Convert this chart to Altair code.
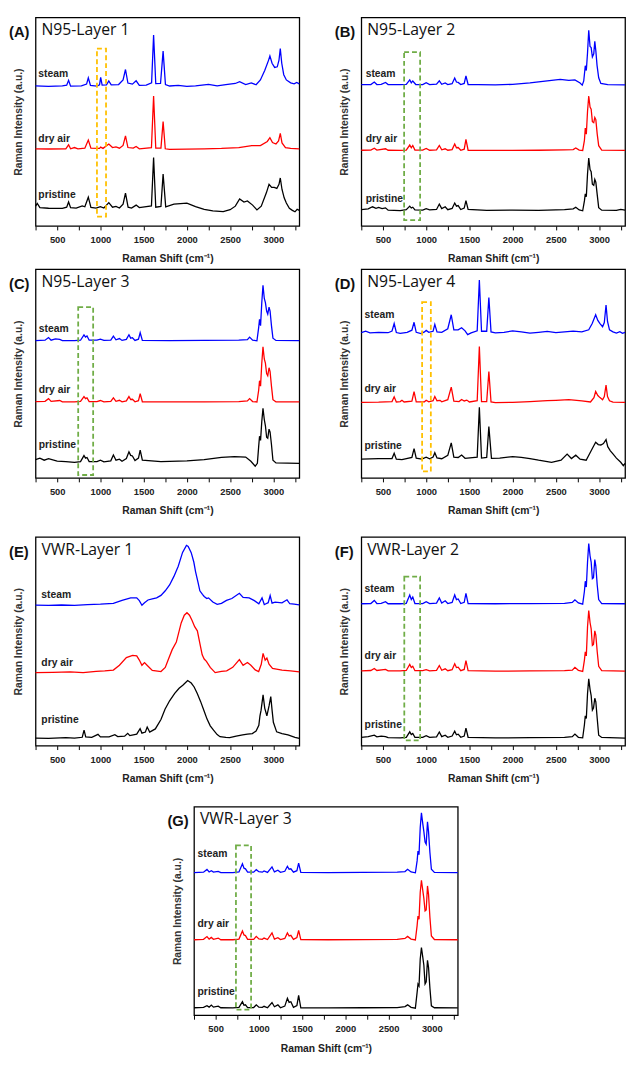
import altair as alt
import pandas as pd

# ---------------- data ----------------
SERIES = ["steam", "dry air", "pristine"]
COLORS = ["#0000ff", "#ff0000", "#000000"]

PANEL_KEYS = ["A", "B", "C", "D", "E", "F", "G"]
PANEL_TITLES = ["N95-Layer 1", "N95-Layer 2", "N95-Layer 3", "N95-Layer 4",
                "VWR-Layer 1", "VWR-Layer 2", "VWR-Layer 3"]

TICK_VALUES = [250, 500, 750, 1000, 1250, 1500, 1750, 2000, 2250, 2500, 2750, 3000, 3250]

A_STEAM = [(250,67.2),(400,66.9),(560,67.2),(610,67.5),(632,69.8),(655,67),(780,67.2),(840,68),(860,71),(885,67.4),(960,67),(990,67.6),(1003,71.2),(1020,67.5),(1070,67.6),(1097,69.5),(1125,67.6),(1210,67.8),(1262,70),(1290,75),(1318,68.5),(1370,68),(1413,69.6),(1450,67.4),(1530,67.5),(1592,68.6),(1615,91.5),(1640,68.2),(1695,68.3),(1725,83.8),(1752,67.8),(1800,67.1),(1900,67.4),(2000,66.9),(2100,67.1),(2250,67.9),(2350,67.2),(2450,67.7),(2560,68.3),(2610,69.2),(2680,67.8),(2745,68.6),(2800,67.7),(2850,70),(2900,74.5),(2945,79.5),(2960,81.5),(2985,78),(3015,76),(3045,76.3),(3065,79.5),(3080,85),(3097,78),(3120,72.5),(3150,70),(3200,68.6),(3240,68.1),(3270,68.8),(3300,68.1)]
A_DRY = [(250,37),(400,36.9),(600,37),(632,38.9),(655,37),(700,37.6),(740,37),(820,37.3),(860,41.2),(890,37.3),(990,37.2),(1003,37.8),(1030,37.2),(1097,39.3),(1140,37.6),(1180,37.9),(1220,37.3),(1262,38.6),(1290,43.2),(1318,37.6),(1380,37.3),(1413,38.1),(1450,37),(1590,37.5),(1615,62.3),(1640,37.3),(1700,37.3),(1725,50),(1750,37),(1800,36.7),(2000,36.8),(2200,37),(2400,37.2),(2600,37.6),(2750,38.5),(2850,38.5),(2930,40.5),(2960,42.3),(2990,40),(3030,39.3),(3060,40.8),(3080,44.4),(3100,39.8),(3140,37.6),(3200,37.2),(3300,37)]
A_PRIS = [(250,9.5),(270,10.8),(300,8.8),(400,8.5),(560,8.4),(610,9),(632,11.5),(655,8.8),(720,8.6),(790,9.6),(820,9.2),(860,13.8),(890,8.9),(950,8.6),(1000,9.3),(1040,8.6),(1097,11.2),(1140,9),(1180,9.4),(1220,8.6),(1262,10.5),(1290,15.8),(1320,9),(1360,8.6),(1413,10),(1450,8.8),(1590,9.6),(1615,32.8),(1640,9),(1700,9.4),(1725,24.9),(1755,9.2),(1850,10.5),(2000,11),(2100,9.3),(2200,8),(2300,7.2),(2420,6.9),(2500,7.8),(2560,9.5),(2610,13),(2660,11.5),(2700,12),(2760,10),(2810,7.7),(2860,9.5),(2920,16),(2950,20),(2980,18.5),(3010,18.5),(3040,18),(3065,20),(3080,23),(3100,17.5),(3125,13.5),(3150,11),(3185,8.5),(3220,7.5),(3250,6.8),(3275,8),(3300,7.5)]

B_STEAM = [(250,67.7),(360,67.8),(400,69),(430,67.8),(480,67.9),(530,68.8),(560,67.8),(700,67.7),(770,67.9),(810,70),(828,68.6),(845,69.5),(880,67.8),(960,67.8),(1000,68.7),(1040,67.8),(1120,68),(1152,69.6),(1180,67.9),(1220,68.6),(1250,67.8),(1300,68.2),(1330,70.9),(1350,69),(1370,68.8),(1400,67.8),(1440,68.3),(1460,71.9),(1485,67.8),(1600,67.7),(1800,67.6),(2000,67.9),(2200,68.6),(2400,69.6),(2550,70.3),(2650,69.8),(2720,70),(2780,68.5),(2805,67.5),(2822,69.5),(2840,76.8),(2852,74.5),(2866,83),(2880,93.8),(2895,86),(2908,85.5),(2922,81),(2938,82.5),(2950,88.5),(2962,84),(2976,77),(2995,71),(3020,68.3),(3100,67.8),(3300,67.6)]
B_DRY = [(250,36.3),(360,36.4),(400,37.3),(430,36.4),(530,37),(560,36.3),(700,36.2),(770,36.4),(810,38.8),(828,37.5),(845,38.6),(870,36.4),(960,36.4),(1000,37.2),(1040,36.3),(1120,36.5),(1152,38.6),(1180,36.5),(1220,37),(1250,36.3),(1300,36.6),(1330,39.3),(1350,37.5),(1370,37.6),(1400,36.3),(1440,36.8),(1460,41.5),(1485,36.3),(1700,36.2),(2000,36.2),(2300,36.3),(2600,36.5),(2700,36.6),(2730,37.4),(2770,36.4),(2810,36.2),(2830,41),(2840,46.9),(2852,44),(2866,55),(2880,62.3),(2895,57),(2908,56),(2922,50),(2938,49.5),(2950,52),(2962,51),(2978,44),(2995,38.5),(3030,36.4),(3300,36.2)]
B_PRIS = [(250,7.8),(330,8.2),(380,9.2),(420,8.5),(450,8.9),(490,8.3),(530,8.7),(560,7.6),(700,7.4),(770,7.8),(810,9.5),(828,8.6),(845,9),(870,7.7),(960,7.6),(1000,8.3),(1040,7.7),(1120,7.9),(1152,10.5),(1180,8.3),(1220,9.2),(1250,7.8),(1300,8.4),(1330,11),(1350,9.5),(1370,9.8),(1400,7.9),(1440,8.6),(1460,12.2),(1485,7.9),(1700,7.5),(2000,7.6),(2300,7.5),(2600,7.8),(2700,8.2),(2730,9),(2770,7.7),(2810,7.3),(2830,12),(2840,15.4),(2852,14),(2866,25),(2880,32.6),(2895,27),(2908,26),(2922,20),(2938,19.5),(2950,22.3),(2962,21),(2978,15),(2995,8.8),(3030,7.6),(3200,7.5),(3250,8),(3300,7.6)]

C_STEAM = [(250,65.8),(360,66),(400,67.3),(430,66),(480,66.6),(530,66.4),(560,65.8),(700,65.8),(770,66),(810,68.6),(828,67.5),(845,68),(870,66),(960,66),(1000,66.5),(1040,65.9),(1120,66.1),(1150,68),(1180,66.2),(1220,66.8),(1250,65.9),(1300,66.4),(1330,68.6),(1350,67),(1370,67.2),(1400,65.9),(1440,66.5),(1460,69.6),(1485,65.9),(1800,65.8),(2200,65.9),(2600,66),(2700,66.3),(2725,67.5),(2760,66),(2810,65.7),(2830,72),(2840,76),(2852,73),(2866,84),(2880,92.3),(2895,86),(2908,84),(2922,80),(2935,78.5),(2950,81.9),(2962,80),(2978,73),(2995,67),(3030,65.9),(3300,65.8)]
C_DRY = [(250,36.6),(360,36.7),(400,38),(430,36.7),(530,37.1),(560,36.5),(700,36.5),(770,36.7),(810,39),(828,38),(845,38.4),(870,36.6),(960,36.6),(1000,37.1),(1040,36.5),(1120,36.7),(1150,38.4),(1180,36.7),(1220,37.2),(1250,36.5),(1300,36.9),(1330,39),(1350,37.6),(1370,37.7),(1400,36.5),(1440,37),(1460,40.4),(1485,36.5),(1800,36.4),(2200,36.5),(2600,36.6),(2700,36.9),(2725,38),(2760,36.6),(2810,36.4),(2830,42),(2840,46.6),(2852,44),(2866,55),(2880,62.8),(2895,57),(2908,55),(2922,50),(2935,49),(2950,52.8),(2962,51),(2978,44),(2995,37.5),(3030,36.5),(3300,36.4)]
C_PRIS = [(250,8.8),(300,9.5),(350,8.5),(400,9.2),(500,8),(600,7.8),(700,7.5),(770,7.8),(810,10.7),(828,9.5),(845,9.8),(870,7.8),(960,7.8),(1000,8.5),(1040,7.7),(1120,8.2),(1150,11),(1180,8.5),(1220,9),(1250,8),(1300,9.3),(1330,12.5),(1350,10.8),(1370,10.5),(1400,8.3),(1440,9.5),(1460,13.3),(1485,8.5),(1700,7.8),(2000,8.2),(2200,8.8),(2400,9.8),(2550,10.2),(2680,10),(2740,8),(2790,5.6),(2815,7),(2830,15),(2840,20),(2852,18),(2866,27),(2880,33.4),(2895,28),(2908,25),(2922,19.5),(2935,19),(2950,23.4),(2962,22),(2978,16),(2995,8.5),(3030,7.2),(3300,7)]

D_STEAM = [(250,69.6),(300,70.3),(350,69.5),(450,69.8),(560,69.6),(605,70.4),(630,74),(655,69.7),(700,69.3),(780,69.8),(835,70.8),(860,74.6),(885,69.8),(940,69.2),(980,70),(1000,70.7),(1030,69.8),(1080,70.3),(1100,73.6),(1125,70),(1180,69.8),(1250,71.5),(1290,78.2),(1320,71),(1370,71),(1410,72),(1450,70.5),(1480,68.7),(1520,69.5),(1590,70.5),(1615,94.9),(1640,70.3),(1700,70.3),(1725,86.5),(1750,70),(1800,69.5),(1900,69.8),(2000,70.5),(2100,70),(2200,69.4),(2300,69.8),(2400,70.2),(2500,69.6),(2600,70),(2700,70.4),(2800,70),(2880,71),(2920,74),(2960,78.2),(2985,75.5),(3010,74),(3040,72.5),(3060,74.5),(3080,82.9),(3097,75),(3120,71),(3160,70),(3200,69.4),(3240,70.1),(3270,69.3),(3300,69.8)]
D_DRY = [(250,36.2),(450,36.3),(605,36.6),(630,38.9),(655,36.4),(700,36.6),(720,37.2),(745,36.4),(835,36.8),(860,41.4),(885,36.5),(980,36.5),(1000,37.2),(1030,36.5),(1080,37),(1100,39),(1125,37),(1160,37.2),(1180,36.5),(1250,37.5),(1290,43.5),(1320,36.8),(1380,36.6),(1410,37.6),(1440,36.9),(1470,37.3),(1500,36.4),(1590,37),(1615,63),(1640,36.6),(1700,36.6),(1725,51),(1750,36.4),(1800,36.1),(2000,36.2),(2200,36.6),(2400,37),(2500,37.2),(2650,37.5),(2800,36.9),(2900,36.4),(2940,38.5),(2960,41.4),(2985,39.5),(3010,38.5),(3040,37.5),(3060,39),(3080,44.5),(3097,39),(3120,37),(3160,36.3),(3300,36.2)]
D_PRIS = [(250,9),(450,9.2),(605,9.3),(630,11.8),(655,9),(720,8.8),(835,9.8),(860,14),(885,9.5),(950,9),(1000,9.9),(1040,9.2),(1080,10),(1100,12.1),(1125,9.6),(1180,9.2),(1250,10.8),(1290,16.8),(1320,10),(1370,9.8),(1410,11),(1450,9.4),(1590,10),(1615,33.9),(1640,9.5),(1700,9.8),(1725,24.6),(1755,9.4),(1850,9.5),(2000,10.2),(2100,9.8),(2200,9.3),(2300,8.5),(2450,7.5),(2560,8.5),(2630,11.4),(2680,9.3),(2730,10.9),(2780,9),(2850,8.5),(2920,14),(2960,17.1),(2990,16),(3020,15.8),(3050,16.5),(3080,18.4),(3100,15),(3130,13),(3160,11.5),(3200,9.5),(3250,7.5),(3280,5.9),(3300,7)]

E_STEAM = [(250,67.3),(400,67.2),(550,67.4),(700,67.2),(850,67.6),(1000,67.8),(1150,68.2),(1250,69.6),(1350,70.8),(1420,70.8),(1450,69.5),(1480,67.3),(1510,68.5),(1550,69.8),(1600,70.3),(1650,70.8),(1700,72),(1750,74.2),(1800,77),(1850,81.1),(1900,86),(1950,92.6),(1995,96),(2015,95.5),(2050,92.5),(2080,88),(2100,83.4),(2130,78),(2150,74.2),(2180,72.5),(2200,71.5),(2230,70.5),(2250,70.8),(2300,68.8),(2350,67.7),(2400,68.2),(2458,69.6),(2520,70.5),(2607,73),(2650,71),(2720,70.8),(2780,69.5),(2832,68),(2869,70.8),(2895,67.6),(2915,68),(2940,68.5),(2963,71.9),(2985,68.3),(3020,68.8),(3100,68.4),(3158,69.9),(3190,68),(3240,67.8),(3300,67.4)]
E_DRY = [(250,35),(450,35.1),(650,35.3),(800,35),(950,35.6),(1050,35.8),(1150,36.2),(1220,38.5),(1300,42.2),(1372,43.2),(1420,43),(1450,41),(1480,38.5),(1510,39.8),(1545,38.3),(1600,36),(1700,35.5),(1750,37.5),(1784,41.2),(1830,46),(1878,49.6),(1934,58.8),(1970,62.5),(2001,63.7),(2030,62.5),(2060,60),(2090,57),(2121,55),(2150,49),(2177,43.5),(2200,41.5),(2226,40.4),(2270,37.5),(2327,35),(2400,35.6),(2460,35.8),(2530,37.5),(2607,41.2),(2650,38.5),(2700,39.8),(2740,38.5),(2790,36.3),(2830,35.5),(2860,39),(2881,44.2),(2905,41),(2925,42),(2950,39),(2990,37),(3020,36.8),(3100,36.2),(3200,35.8),(3300,35.3)]
E_PRIS = [(250,3.6),(400,3.5),(600,3.8),(700,3.6),(790,4),(811,7.4),(830,4.2),(900,4),(972,5.4),(1000,4.2),(1100,4.2),(1167,5.2),(1200,4.3),(1280,4.5),(1316,5.9),(1340,4.8),(1420,5.5),(1459,8.1),(1480,6),(1520,6.5),(1541,8.9),(1570,6.5),(1635,8),(1700,12.5),(1747,17.4),(1800,21.5),(1859,25),(1910,27.5),(1953,28.9),(2009,31.2),(2050,30),(2084,28.1),(2120,25),(2158,21.2),(2200,16.5),(2233,12.7),(2270,9.5),(2308,7.4),(2350,5.3),(2383,4.3),(2450,3.9),(2495,3.8),(2570,4.5),(2645,5.1),(2700,5.5),(2757,5.8),(2800,7),(2832,9.7),(2845,14.3),(2858,17),(2881,24.3),(2900,18),(2925,14.3),(2950,19),(2970,23.5),(2985,17),(3000,11.2),(3038,6.6),(3100,5.8),(3169,5.1),(3250,4),(3300,3.5)]

F_STEAM = [(250,68),(360,68.1),(400,69.6),(430,68.1),(480,68.2),(530,69),(560,68),(700,68),(770,68.2),(810,72.2),(828,70),(845,71.2),(870,68.1),(960,68.1),(1000,69),(1040,68.1),(1120,68.3),(1152,70.8),(1180,68.3),(1220,69.4),(1250,68.1),(1300,68.6),(1330,72.2),(1350,70),(1370,70.3),(1400,68.1),(1440,68.7),(1460,73),(1485,68.1),(1800,68),(2200,68.1),(2600,68.2),(2690,68.6),(2720,69.9),(2760,68.4),(2810,67.8),(2830,74),(2840,78.8),(2852,76),(2866,88),(2880,96.9),(2895,91),(2908,88),(2922,80),(2935,80.5),(2950,89.2),(2962,86),(2978,77),(2995,70),(3030,68.1),(3300,68)]
F_DRY = [(250,35.8),(360,36),(400,37),(430,36),(530,36.5),(560,35.8),(700,35.8),(770,36),(810,38.9),(828,37.4),(845,38),(870,35.9),(960,35.9),(1000,36.4),(1040,35.8),(1120,36.1),(1152,38.4),(1180,36.1),(1220,36.8),(1250,35.9),(1300,36.4),(1330,39.2),(1350,37.4),(1370,37.6),(1400,35.9),(1440,36.5),(1460,40.7),(1485,35.9),(1800,35.7),(2200,35.8),(2600,35.9),(2690,36.2),(2720,37.5),(2760,36.1),(2810,35.6),(2830,41),(2840,45),(2852,43),(2866,57),(2880,64.7),(2895,59),(2908,56),(2922,48),(2935,48.5),(2950,55),(2962,53),(2978,45),(2995,38),(3030,35.9),(3300,35.7)]
F_PRIS = [(250,4),(330,4.3),(400,5),(430,4.2),(480,4.5),(530,4.3),(560,3.8),(700,3.7),(770,4),(810,6.6),(828,5.3),(845,5.8),(870,4),(960,4),(1000,4.8),(1040,4),(1120,4.2),(1152,6.5),(1180,4.3),(1220,5),(1250,4),(1300,4.6),(1330,6.9),(1350,5.2),(1370,5.5),(1400,4),(1440,4.6),(1460,8.4),(1485,4),(1800,3.7),(2200,3.8),(2600,3.9),(2690,4.3),(2720,5.5),(2760,4),(2810,3.7),(2830,10),(2840,14.3),(2852,13),(2866,25),(2880,32),(2895,27),(2908,24),(2922,17),(2935,18),(2950,22.7),(2962,21),(2978,13),(2995,5),(3030,3.9),(3300,3.6)]

G_STEAM = [(250,68.4),(360,68.6),(400,69.9),(425,68.7),(450,69.3),(475,68.6),(530,69),(560,68.4),(700,68.4),(770,68.7),(810,72.6),(828,70.5),(845,70.2),(870,68.6),(940,68.6),(970,69.8),(1000,68.8),(1040,68.6),(1060,69.2),(1100,68.5),(1152,71.1),(1180,68.7),(1220,69.5),(1250,68.5),(1300,69),(1330,71.4),(1350,70),(1370,70.2),(1400,68.6),(1440,69.3),(1460,72.9),(1485,68.5),(1800,68.4),(2200,68.5),(2600,68.6),(2690,68.9),(2720,70),(2760,68.7),(2810,68.3),(2830,74),(2840,78.7),(2852,77),(2866,90),(2880,97),(2895,92),(2908,88),(2922,83),(2935,82),(2950,92.7),(2962,88),(2978,78),(2995,70),(3030,68.5),(3300,68.4)]
G_DRY = [(250,36.2),(360,36.4),(400,37.7),(425,36.5),(450,37.3),(475,36.4),(530,37),(560,36.2),(700,36.2),(770,36.5),(810,40.4),(828,38.5),(845,38.2),(870,36.4),(940,36.4),(970,37.8),(1000,36.6),(1040,36.4),(1060,37),(1100,36.3),(1152,39.5),(1180,36.5),(1220,37.2),(1250,36.3),(1300,36.8),(1330,39.5),(1350,38),(1370,38.3),(1400,36.4),(1440,37.3),(1460,40.7),(1485,36.3),(1800,36.2),(2200,36.3),(2600,36.4),(2690,36.8),(2720,37.8),(2760,36.5),(2810,36.1),(2830,43),(2840,47.6),(2852,46),(2866,59),(2880,64.7),(2895,60),(2908,56),(2922,50),(2935,50.5),(2950,62),(2962,58),(2978,47),(2995,38),(3030,36.3),(3300,36.2)]
G_PRIS = [(250,3.6),(360,3.8),(400,4.6),(425,3.9),(450,4.9),(475,3.9),(530,4.4),(560,3.6),(700,3.5),(770,3.8),(810,6.5),(828,4.8),(845,5),(870,3.7),(940,3.7),(970,5),(1000,3.9),(1040,3.8),(1060,4.3),(1100,3.6),(1152,6.1),(1180,4.1),(1220,5),(1250,3.6),(1300,4.4),(1330,8.1),(1350,6.2),(1370,6.5),(1400,3.8),(1440,4.7),(1460,9.6),(1485,3.6),(1800,3.5),(2200,3.6),(2600,3.7),(2690,4.2),(2720,5),(2760,3.8),(2810,3.4),(2830,11),(2840,14.9),(2852,14),(2866,27),(2880,32.4),(2895,28),(2908,24),(2922,15),(2935,16),(2950,26.3),(2962,23),(2978,13),(2995,4.5),(3030,3.6),(3300,3.5)]

# curve-label positions (x in cm-1, y in plot units) per panel
LABEL_X = [282, 300, 287, 287, 317, 288, 291]
LABEL_Y_STEAM = [72.6, 73.0, 71.4, 77.9, 72.4, 75.0, 77.2]
LABEL_Y_DRY = [41.8, 41.5, 42.3, 42.5, 39.5, 43.0, 43.8]
LABEL_Y_PRIS = [14.6, 13.0, 15.6, 15.2, 12.4, 10.0, 11.1]

# dashed highlight boxes
BOX_PANEL = ["A", "B", "C", "D", "F", "G"]
BOX_X1 = [960, 745, 743, 953, 747, 735]
BOX_X2 = [1065, 930, 916, 1054, 930, 910]
BOX_Y1 = [4.5, 2.8, 1.4, 3.1, 2.5, 2.7]
BOX_Y2 = [85.0, 83.3, 81.9, 84.3, 81.0, 81.4]
BOX_COLOR = ["#FFC000", "#70AD47", "#70AD47", "#FFC000", "#70AD47", "#70AD47"]

SPECTRA = {
    "A": [A_STEAM, A_DRY, A_PRIS], "B": [B_STEAM, B_DRY, B_PRIS],
    "C": [C_STEAM, C_DRY, C_PRIS], "D": [D_STEAM, D_DRY, D_PRIS],
    "E": [E_STEAM, E_DRY, E_PRIS], "F": [F_STEAM, F_DRY, F_PRIS],
    "G": [G_STEAM, G_DRY, G_PRIS],
}

# ---------------- layout ----------------
W, H = 268, 212
SANS = "Liberation Sans"

XSCALE = alt.Scale(domain=[250, 3300], nice=False, zero=False)
YSCALE = alt.Scale(domain=[0, 100], nice=False, zero=False)
XAXIS = alt.Axis(values=TICK_VALUES, format="d",
                 labelExpr="datum.value % 500 == 0 ? datum.label : ''",
                 title="Raman Shift (cm\u207b\u00b9)", grid=False, domain=False,
                 tickSize=4, tickColor="black", tickWidth=1,
                 labelFont=SANS, labelFontWeight="bold", labelFontSize=9.5,
                 labelColor="#222", labelPadding=5, labelOverlap=False, labelFlush=False,
                 titleFont=SANS, titleFontWeight="bold", titleFontSize=10.5,
                 titleColor="#222", titlePadding=10)
YAXIS = alt.Axis(labels=False, ticks=False, domain=False, grid=False,
                 title="Raman Intensity (a.u.)", titleFont=SANS,
                 titleFontWeight="bold", titleFontSize=10.5, titleColor="#333",
                 titlePadding=12)


def make_panel(idx):
    key = PANEL_KEYS[idx]
    rows = []
    for s, pts in zip(SERIES, SPECTRA[key]):
        for i, (x, y) in enumerate(pts):
            rows.append({"x": x, "y": y, "series": s, "i": i})
    df = pd.DataFrame(rows)

    lines = alt.Chart(df).mark_line(strokeWidth=1.3).encode(
        x=alt.X("x:Q", scale=XSCALE, axis=XAXIS),
        y=alt.Y("y:Q", scale=YSCALE, axis=YAXIS),
        color=alt.Color("series:N", scale=alt.Scale(domain=SERIES, range=COLORS), legend=None),
        order="i:Q",
    )

    lab_df = pd.DataFrame({
        "x": [LABEL_X[idx]] * 3,
        "y": [LABEL_Y_STEAM[idx], LABEL_Y_DRY[idx], LABEL_Y_PRIS[idx]],
        "t": SERIES,
    })
    labels = alt.Chart(lab_df).mark_text(
        align="left", baseline="middle", font=SANS, fontWeight="bold",
        fontSize=10.5, color="#222"
    ).encode(x=alt.X("x:Q", scale=XSCALE, axis=XAXIS),
             y=alt.Y("y:Q", scale=YSCALE, axis=YAXIS), text="t:N")

    layers = [lines, labels]

    if key in BOX_PANEL:
        b = BOX_PANEL.index(key)
        box_df = pd.DataFrame({"x1": [BOX_X1[b]], "x2": [BOX_X2[b]],
                               "y1": [BOX_Y1[b]], "y2": [BOX_Y2[b]]})
        box = alt.Chart(box_df).mark_rect(
            fillOpacity=0, stroke=BOX_COLOR[b], strokeWidth=1.8, strokeDash=[5, 3]
        ).encode(x=alt.X("x1:Q", scale=XSCALE, axis=XAXIS), x2="x2:Q",
                 y=alt.Y("y1:Q", scale=YSCALE, axis=YAXIS), y2="y2:Q")
        layers.append(box)

    title_df = pd.DataFrame({"t": [PANEL_TITLES[idx]], "l": ["(" + key + ")"]})
    title = alt.Chart(title_df).mark_text(
        align="left", baseline="middle", font="Open Sans", fontSize=16, color="#111"
    ).encode(x=alt.value(6), y=alt.value(13), text="t:N")
    letter = alt.Chart(title_df).mark_text(
        align="left", baseline="middle", font=SANS, fontWeight="bold",
        fontSize=15, color="#111"
    ).encode(x=alt.value(-27), y=alt.value(15), text="l:N")
    layers += [title, letter]

    return alt.layer(*layers).properties(width=W, height=H)


pA, pB, pC, pD, pE, pF, pG = [make_panel(i) for i in range(7)]

spacer = alt.Chart(pd.DataFrame({"t": [""]})).mark_text().encode(
    text="t:N"
).properties(width=132, height=10, view=alt.ViewBackground(stroke="transparent"))

row1 = alt.hconcat(pA, pB, spacing=31)
row2 = alt.hconcat(pC, pD, spacing=31)
row3 = alt.hconcat(pE, pF, spacing=31)
row4 = alt.hconcat(spacer, pG, spacing=0)

chart = alt.vconcat(
    alt.vconcat(row1, row2, spacing=3),
    alt.vconcat(row3, row4, spacing=20),
    spacing=19,
).properties(padding=0).configure_view(stroke="black", strokeWidth=1.3)

chart.save("out.html", embed_options={"renderer": "svg", "actions": False})
